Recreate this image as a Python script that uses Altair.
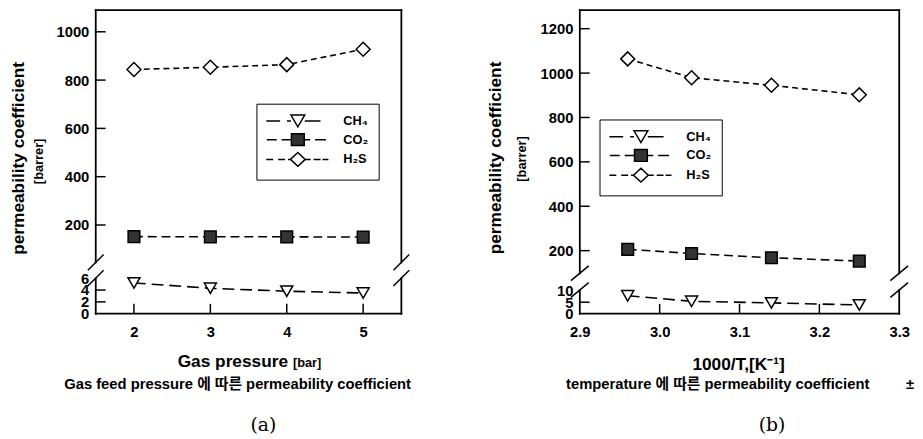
import altair as alt
import pandas as pd

GASES = ["CH₄", "CO₂", "H₂S"]

# panel (a): permeability vs gas feed pressure
PRESSURE = [2, 3, 4, 5]
A_CH4 = [5.2, 4.3, 3.8, 3.5]
A_CO2 = [152, 151, 151, 150]
A_H2S = [844, 853, 864, 928]

# panel (b): permeability vs 1000/T
INV_T = [2.96, 3.04, 3.14, 3.25]
B_CH4 = [7.8, 5.4, 4.7, 3.8]
B_CO2 = [206, 187, 168, 153]
B_H2S = [1064, 979, 945, 902]

A_X_TICKS = [2, 3, 4, 5]
A_Y_TICKS = [0, 2, 4, 6, 200, 400, 600, 800, 1000]
B_X_TICKS = [2.9, 3.0, 3.1, 3.2, 3.3]
B_Y_TICKS = [0, 5, 10, 200, 400, 600, 800, 1000, 1200]

SHAPES = ["triangle-down", "square", "diamond"]
FILLS = ["white", "#333333", "white"]
SIZES = [150, 140, 200]
DASHES = [[12, 6], [9, 5], [6, 4]]

FONT = "Liberation Sans, Arial, Noto Sans CJK KR, sans-serif"
SERIF = "DejaVu Serif, serif"

# legend symbols: dashed line + marker (custom SVG paths, unit = sqrt(169)/2 px)
U = 6.5


def sym_path(segments, marker):
    parts = [f"M{a / U:.3f},0H{b / U:.3f}" for a, b in segments]
    pts = " L".join(f"{x / U:.3f},{y / U:.3f}" for x, y in marker)
    return "".join(parts) + "M" + pts + "Z"


LEG_PATHS = [
    sym_path([(-32, -18), (-11, -7), (7, 23)], [(-7, -6), (7, -6), (0, 6)]),
    sym_path([(-31.5, -21.5), (-16.5, -6.5), (6.5, 12.5), (17.5, 28.5)],
             [(-6.5, -6), (6.5, -6), (6.5, 6), (-6.5, 6)]),
    sym_path([(-32, -25), (-20, -13), (-10, -7.5), (7.5, 13), (16, 23), (25, 31)],
             [(-7.5, 0), (0, -7), (7.5, 0), (0, 7)]),
]


def txt(s, x, y, size, weight="bold", align="center", baseline="alphabetic",
        angle=0, font=FONT):
    return alt.Chart(pd.DataFrame({"t": [s]})).mark_text(
        align=align, baseline=baseline, angle=angle, font=font,
        fontSize=size, fontWeight=weight, color="black",
    ).encode(text="t:N", x=alt.value(x), y=alt.value(y))


def panel(xs, series, xdom, ydom, yrange, xticks, yticks, xfmt,
          inner_y, inner_x, legend_xy, slash, width, height, texts):
    xmin, xmax = xdom
    ylo_top, yup_bot, ytop = ydom[1], ydom[2], ydom[3]
    df = pd.DataFrame({
        "x": xs * 3,
        "y": [v for s in series for v in s],
        "gas": [g for g in GASES for _ in xs],
    })
    xscale = alt.Scale(domain=list(xdom), nice=False, zero=False)
    yscale = alt.Scale(domain=ydom, range=yrange, nice=False, zero=False)
    common = dict(title=None, ticks=False, tickSize=0, domain=False, grid=False,
                  labelFont=FONT, labelFontSize=15, labelFontWeight="bold",
                  labelColor="black", labelFlush=False, labelOverlap=False)
    xaxis = alt.Axis(values=xticks, format=xfmt, labelPadding=11, **common)
    yaxis = alt.Axis(values=yticks, format="d", labelPadding=7, **common)

    def X(f):
        return alt.X(f, type="quantitative", scale=xscale, axis=xaxis)

    def Y(f):
        return alt.Y(f, type="quantitative", scale=yscale, axis=yaxis)

    frame = pd.DataFrame({
        "x": [xmin, xmin, xmin, xmin, xmax, xmax],
        "x2": [xmax, xmax, xmin, xmin, xmax, xmax],
        "y": [ytop, 0, 0, yup_bot, 0, yup_bot],
        "y2": [ytop, 0, ylo_top, ytop, ylo_top, ytop],
    })
    frame_l = alt.Chart(frame).mark_rule(
        color="black", strokeWidth=1.8, strokeCap="square"
    ).encode(x=X("x"), x2=alt.X2("x2"), y=Y("y"), y2=alt.Y2("y2"))

    sx, sy = slash
    slashes = pd.DataFrame({"x": [xmin, xmin, xmax, xmax],
                            "y": [yup_bot, ylo_top, yup_bot, ylo_top]})
    slash_l = alt.Chart(slashes).mark_rule(
        color="black", strokeWidth=1.5,
        xOffset=-sx, x2Offset=sx, yOffset=sy, y2Offset=-sy,
    ).encode(x=X("x"), x2=alt.X2("x"), y=Y("y"), y2=alt.Y2("y"))

    yt = pd.DataFrame({"x": [xmin] * len(inner_y), "y": inner_y})
    ytick_l = alt.Chart(yt).mark_rule(color="black", strokeWidth=1.5, x2Offset=10).encode(
        x=X("x"), x2=alt.X2("x"), y=Y("y"))
    xt = pd.DataFrame({"x": inner_x, "y": [0] * len(inner_x)})
    xtick_l = alt.Chart(xt).mark_rule(color="black", strokeWidth=1.5, y2Offset=-10).encode(
        x=X("x"), y=Y("y"), y2=alt.Y2("y"))

    line_ls, point_ls = [], []
    for i, g in enumerate(GASES):
        sub = alt.Chart(df).transform_filter(alt.datum.gas == g)
        line_ls.append(
            sub.mark_line(color="black", strokeWidth=1.6, strokeDash=DASHES[i]).encode(
                x=X("x"), y=Y("y"))
        )
        point_ls.append(
            sub.mark_point(
                shape=SHAPES[i], filled=True, fill=FILLS[i], stroke="black",
                strokeWidth=1.5, size=SIZES[i], opacity=1,
            ).encode(x=X("x"), y=Y("y"))
        )

    leg = alt.Legend(
        title=None, orient="none", legendX=legend_xy[0], legendY=legend_xy[1],
        padding=10, strokeColor="black", fillColor="white",
        symbolSize=169, symbolStrokeColor="black", symbolStrokeWidth=1.5,
        symbolOpacity=1, symbolOffset=24.5, labelOffset=38.5, rowPadding=0,
        labelFont=FONT, labelFontSize=13, labelFontWeight="bold", labelColor="black",
    )
    # invisible marks that only carry the legend (dashed line + marker symbols)
    legend_l = alt.Chart(df).mark_point(
        filled=True, strokeWidth=1.5, size=169, opacity=0,
    ).encode(
        x=X("x"), y=Y("y"),
        shape=alt.Shape("gas:N", scale=alt.Scale(domain=GASES, range=LEG_PATHS), legend=leg),
        fill=alt.Fill("gas:N", scale=alt.Scale(domain=GASES, range=FILLS), legend=leg),
        stroke=alt.Stroke("gas:N", scale=alt.Scale(domain=GASES, range=["black"] * 3),
                          legend=leg),
    )

    return alt.layer(frame_l, slash_l, ytick_l, xtick_l, *line_ls, legend_l, *point_ls,
                     *texts).properties(width=width, height=height)


H = 308

chart_a = panel(
    PRESSURE, [A_CH4, A_CO2, A_H2S], (1.5, 5.5), [0, 6, 45, 1090], [H, 272, 256, 0],
    A_X_TICKS, A_Y_TICKS, "d", [2, 4, 200, 400, 600, 800, 1000], [2, 3, 4, 5],
    (163, 95), (8, 8), 310, H,
    [
        txt("permeability coefficient", -78, 150.5, 17.5, angle=270, baseline="middle"),
        txt("[barrer]", -57.5, 153.5, 13, angle=270, baseline="middle"),
        txt("Gas pressure", 195, 362, 17.5, align="right"),
        txt("[bar]", 200, 362, 13, align="left"),
        txt("Gas feed pressure 에 따른 permeability coefficient", -32, 384, 15, align="left"),
        txt("(a)", 170, 427, 19, weight="normal", font=SERIF),
    ],
)

chart_b = panel(
    INV_T, [B_CH4, B_CO2, B_H2S], (2.9, 3.3), [0, 10.3, 98, 1284], [H, 284, 267, 0],
    B_X_TICKS, B_Y_TICKS, ".1f", [5, 200, 400, 600, 800, 1000, 1200], [3.0, 3.1, 3.2],
    (20, 111), (9, 7.5), 324, H,
    [
        txt("permeability coefficient", -84.5, 150, 17.5, angle=270, baseline="middle"),
        txt("[barrer]", -58.5, 151, 13, angle=270, baseline="middle"),
        txt("1000/T,[K⁻¹]", 161, 365, 17.5),
        txt("temperature 에 따른 permeability coefficient", -14, 384, 15, align="left"),
        txt("±", 335, 384, 15),
        txt("(b)", 195, 427, 19, weight="normal", font=SERIF),
    ],
)

chart = alt.hconcat(chart_a, chart_b, spacing=181, bounds="flush").resolve_scale(
    shape="independent", fill="independent", stroke="independent"
).resolve_legend(
    shape="independent", fill="independent", stroke="independent"
).properties(
    padding={"left": 2, "top": -3, "right": 0, "bottom": 0}
).configure_view(stroke=None)

chart.save("out.html", embed_options={"renderer": "svg", "actions": False})
